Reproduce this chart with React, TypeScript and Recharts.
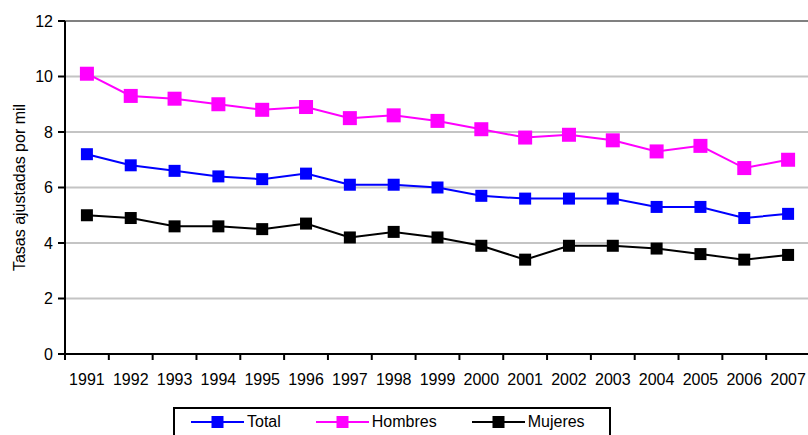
import React from "react"
import { LineChart, Line, XAxis, YAxis, CartesianGrid, ReferenceLine } from "recharts"

const years = ["1991", "1992", "1993", "1994", "1995", "1996", "1997", "1998", "1999", "2000", "2001", "2002", "2003", "2004", "2005", "2006", "2007"]
const total = [7.2, 6.8, 6.6, 6.4, 6.3, 6.5, 6.1, 6.1, 6.0, 5.7, 5.6, 5.6, 5.6, 5.3, 5.3, 4.9, 5.05]
const hombres = [10.1, 9.3, 9.2, 9.0, 8.8, 8.9, 8.5, 8.6, 8.4, 8.1, 7.8, 7.9, 7.7, 7.3, 7.5, 6.7, 7.0]
const mujeres = [5.0, 4.9, 4.6, 4.6, 4.5, 4.7, 4.2, 4.4, 4.2, 3.9, 3.4, 3.9, 3.9, 3.8, 3.6, 3.4, 3.57]
const yTicks = [0, 2, 4, 6, 8, 10, 12]

const data = years.map((year, i) => ({
  year,
  total: total[i],
  hombres: hombres[i],
  mujeres: mujeres[i],
}))

const series = [
  { key: "total", name: "Total", color: "#0000ff", size: 12 },
  { key: "hombres", name: "Hombres", color: "#ff00ff", size: 14 },
  { key: "mujeres", name: "Mujeres", color: "#000000", size: 12 },
]

const W = 820
const H = 435
const xAxisHeight = 30
const margin = { top: 21, right: 10, left: 0, bottom: 81 - xAxisHeight }
const yAxisWidth = 65
const halfBand = (W - margin.left - margin.right - yAxisWidth) / years.length / 2
const font = "Liberation Sans, Arial, sans-serif"

const squareDot = (color: string, size: number) => (props: any) => {
  const { cx, cy, index } = props
  if (cx == null || cy == null) return <g key={index} />
  return <rect key={index} x={cx - size / 2} y={cy - size / 2} width={size} height={size} fill={color} />
}

// tick mark between years, label centred under the point
function YearTick(props: any) {
  const { x, y, payload } = props
  return (
    <g>
      <line x1={x - halfBand} x2={x - halfBand} y1={y - 6} y2={y} stroke="#000" strokeWidth={2} />
      <text x={x} y={y + 25} textAnchor="middle" fontSize={16} fontFamily={font} fill="#000">
        {payload.value}
      </text>
    </g>
  )
}

function Legendbox() {
  return (
    <div
      style={{
        position: "absolute",
        left: 173,
        top: 407,
        width: 438,
        height: 40,
        border: "2px solid #000",
        background: "#fff",
        display: "flex",
        alignItems: "flex-start",
        paddingLeft: 16,
        gap: 35,
        fontFamily: font,
        fontSize: 16,
        boxSizing: "border-box",
      }}
    >
      {series.map((s) => (
        <div key={s.key} style={{ display: "flex", alignItems: "center", height: 25 }}>
          <svg width={53} height={14} style={{ display: "block" }}>
            <line x1={0} x2={53} y1={7} y2={7} stroke={s.color} strokeWidth={2} />
            <rect x={20.5} y={1} width={12} height={12} fill={s.color} />
          </svg>
          <span style={{ marginLeft: 3, color: "#000" }}>{s.name}</span>
        </div>
      ))}
    </div>
  )
}

export default function App() {
  return (
    <div style={{ position: "absolute", left: 0, top: 0, width: 808, height: 435, overflow: "hidden", background: "#fff" }}>
      <LineChart width={W} height={H} data={data} margin={margin}>
        <CartesianGrid vertical={false} stroke="#c4c4c4" strokeWidth={2} />
        <ReferenceLine y={12} stroke="#808080" strokeWidth={2} />
        <XAxis
          dataKey="year"
          height={xAxisHeight}
          padding={{ left: halfBand, right: halfBand }}
          axisLine={{ stroke: "#000", strokeWidth: 2 }}
          tickLine={false}
          tickSize={6}
          tickMargin={0}
          interval={0}
          tick={<YearTick />}
        />
        <YAxis
          width={yAxisWidth}
          domain={[0, 12]}
          ticks={yTicks}
          interval={0}
          axisLine={{ stroke: "#000", strokeWidth: 2 }}
          tickLine={{ stroke: "#000", strokeWidth: 2 }}
          tickSize={7}
          tickMargin={5}
          tick={{ fontSize: 16, fill: "#000", fontFamily: font }}
          label={{
            content: (p: any) => {
              const vb = p.viewBox || { y: margin.top, height: H - 81 - margin.top }
              const cy = vb.y + vb.height / 2
              return (
                <text x={25} y={cy} transform={`rotate(-90 25 ${cy})`} textAnchor="middle" fontSize={16} fontFamily={font} fill="#000">
                  Tasas ajustadas por mil
                </text>
              )
            },
          }}
        />
        {series.map((s) => (
          <Line
            key={s.key}
            type="linear"
            dataKey={s.key}
            name={s.name}
            stroke={s.color}
            strokeWidth={2}
            dot={squareDot(s.color, s.size)}
            activeDot={false}
            isAnimationActive={false}
          />
        ))}
      </LineChart>
      <Legendbox />
    </div>
  )
}
